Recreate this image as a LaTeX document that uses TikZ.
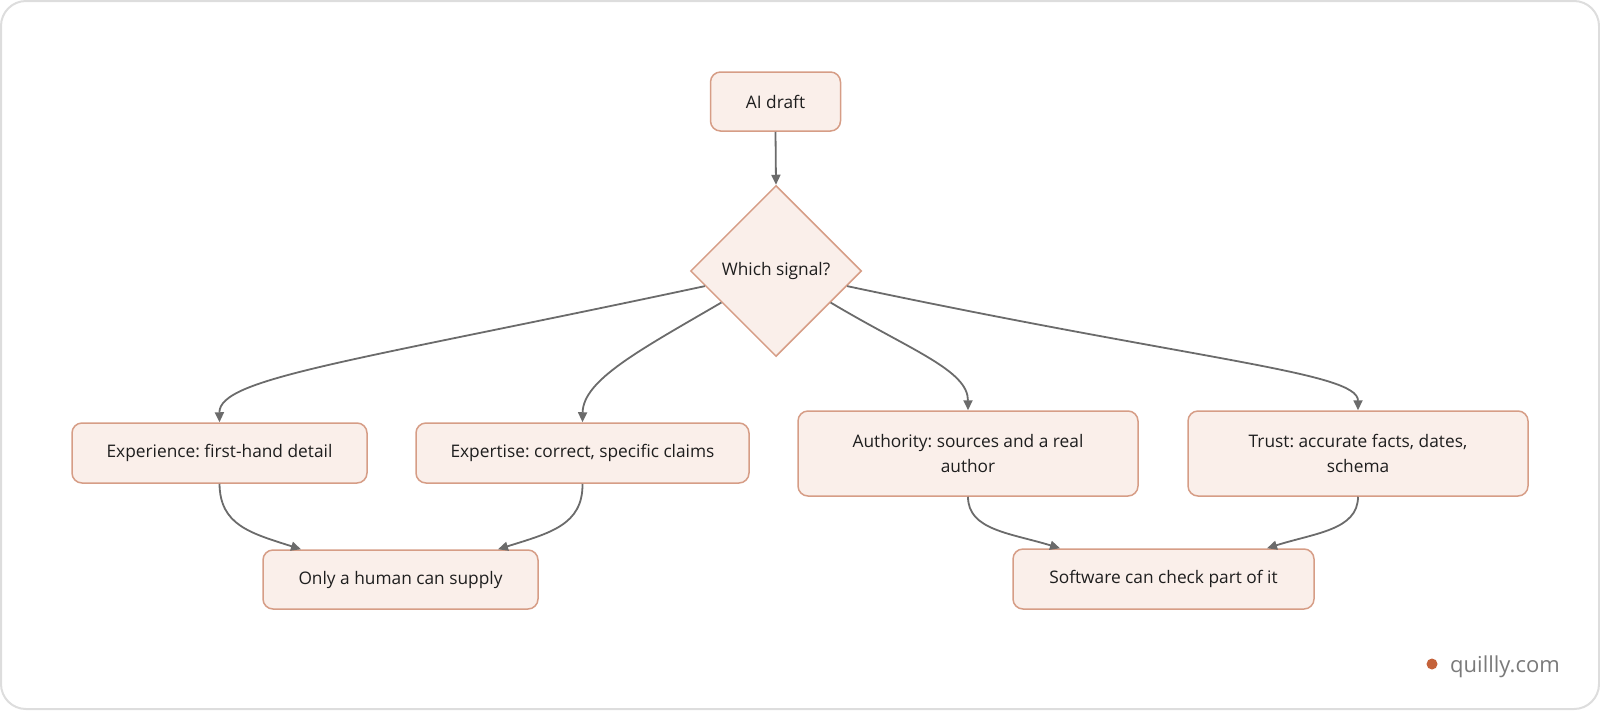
\documentclass[tikz,border=0pt]{standalone}
\usepackage{fontspec}
\setmainfont{Open Sans}
\usetikzlibrary{shapes.geometric,arrows.meta,calc}
\frenchspacing
\definecolor{boxfill}{HTML}{FAEFEA}
\definecolor{boxline}{HTML}{D69D86}
\definecolor{arrowgray}{HTML}{6B6B6B}
\definecolor{framegray}{HTML}{DDDDDD}
\definecolor{dotorange}{HTML}{C4623A}
\definecolor{wmgray}{HTML}{7A7A7A}
\definecolor{txt}{HTML}{1E1E1E}
\begin{document}
\frenchspacing
\begin{tikzpicture}[x=1pt,y=-1pt,
  box/.style={draw=boxline, fill=boxfill, line width=1.5pt, rounded corners=10pt, inner sep=0pt, font=\fontsize{17.3}{25}\selectfont, align=center, text=txt},
  dia/.style={draw=boxline, fill=boxfill, line width=1.5pt, diamond, inner sep=0pt, minimum width=171pt, minimum height=171pt, font=\fontsize{17.3}{25}\selectfont, text=txt},
  conn/.style={draw=arrowgray, line width=1.8pt, -{Triangle[length=10pt,width=9pt]}},
]
\useasboundingbox (0,0) rectangle (1600,710);
\draw[framegray, line width=2pt, rounded corners=25pt] (1,1) rectangle (1599,709);

\node[box, minimum width=130pt, minimum height=59pt] (ai) at (775.5,101.5) {AI draft};
\node[dia] (d) at (776,271) {Which signal?};
\node[box, minimum width=295pt, minimum height=60pt] (exp) at (219.5,453) {Experience: first-hand detail};
\node[box, minimum width=333pt, minimum height=60pt] (ext) at (582.5,453) {Expertise: correct, specific claims};
\node[box, minimum width=340pt, minimum height=85pt] (aut) at (968,453.5) {Authority: sources and a real\\author};
\node[box, minimum width=340pt, minimum height=85pt] (tru) at (1358,453.5) {Trust: accurate facts, dates,\\schema};
\node[box, minimum width=275pt, minimum height=59pt] (only) at (400.5,579.5) {Only a human can supply};
\node[box, minimum width=301pt, minimum height=60pt] (soft) at (1163.5,579) {Software can check part of it};

\draw[conn] (ai.south) -- (d.north);
\draw[conn] (d.192) .. controls (350,362) and (219,378) .. (exp.north);
\draw[conn] (d.210) .. controls (640,350) and (583,380) .. (ext.north);
\draw[conn] (d.330) .. controls (910,350) and (968,370) .. (aut.north);
\draw[conn] (d.348) .. controls (1200,361) and (1358,372) .. (tru.north);

\draw[conn] (exp.south) .. controls (220,525) and (250,533) .. ($(only.north)+(-99.5,0)$);
\draw[conn] (ext.south) .. controls (583,525) and (550,533) .. ($(only.north)+(97.5,0)$);
\draw[conn] (aut.south) .. controls (968,530) and (1010,533) .. ($(soft.north)+(-103.5,0)$);
\draw[conn] (tru.south) .. controls (1358,530) and (1315,533) .. ($(soft.north)+(103.5,0)$);

\fill[dotorange] (1432,664) circle (5.5);
\node[anchor=base west, text=wmgray, font=\fontsize{22}{26}\selectfont, inner sep=0pt] (wm) at (1450,672) {quillly.com};
\end{tikzpicture}
\end{document}
